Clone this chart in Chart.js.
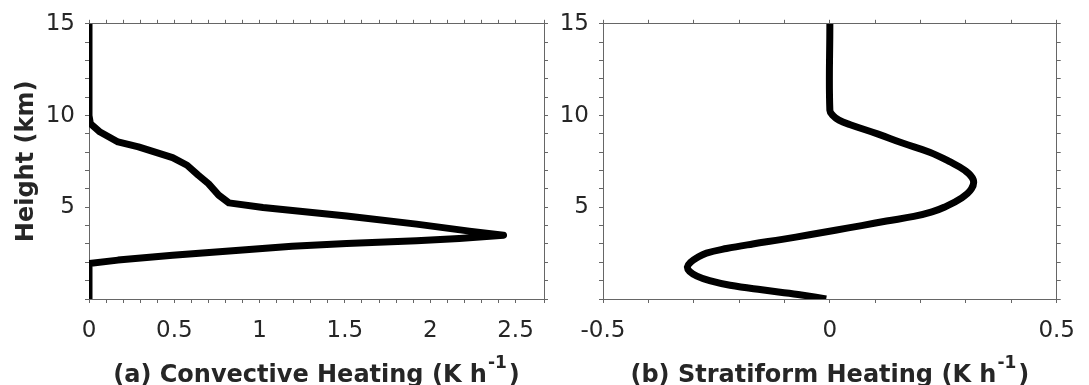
<!DOCTYPE html>
<html>
<head>
<meta charset="utf-8">
<script src="https://cdn.jsdelivr.net/npm/chart.js@4.4.0/dist/chart.umd.min.js"></script>
<style>
  html, body { margin: 0; padding: 0; background: #fff; }
  #wrap { position: relative; width: 1089px; height: 385px; overflow: hidden; }
  canvas { position: absolute; top: 0; }
  #c1 { left: 0; }
  #c2 { left: 545px; }
</style>
</head>
<body>
<div id="wrap">
  <canvas id="c1" width="560" height="385" style="width:560px;height:385px"></canvas>
  <canvas id="c2" width="544" height="385" style="width:544px;height:385px"></canvas>
</div>
<script>
// (a) convective heating profile, km / K h-1
const convHeight  = [0, 1.94, 2.12, 2.39, 2.67, 2.88, 3.03, 3.17, 3.30, 3.48, 3.70, 4.08, 4.52, 4.99, 5.24, 5.66, 6.29, 6.75, 7.29, 7.71, 8.29, 8.56, 9.10, 9.56, 10.0, 15];
const convHeating = [0, 0, 0.17, 0.49, 0.90, 1.19, 1.51, 1.92, 2.17, 2.43, 2.23, 1.92, 1.51, 1.02, 0.82, 0.76, 0.70, 0.64, 0.575, 0.49, 0.29, 0.17, 0.065, 0.008, 0, 0];

// (b) stratiform heating profile
const stratHeight  = [0, 0.25, 0.5, 0.75, 1.0, 1.25, 1.5, 1.75, 2.0, 2.25, 2.5, 2.75, 3.0, 3.25, 3.5, 3.75, 4.0, 4.25, 4.5, 4.75, 5.0, 5.5, 6.0, 6.5, 7.0, 7.5, 8.0, 8.5, 9.0, 9.5, 9.75, 10.0, 10.28, 15];
const stratHeating = [-0.008, -0.07, -0.15, -0.22, -0.265, -0.293, -0.309, -0.314, -0.307, -0.293, -0.272, -0.228, -0.17, -0.105, -0.045, 0.012, 0.07, 0.125, 0.185, 0.225, 0.252, 0.29, 0.312, 0.316, 0.298, 0.263, 0.22, 0.16, 0.105, 0.045, 0.02, 0.007, 0, 0];

const yMajor = [5, 10, 15];
const convXMajor = [0, 0.5, 1, 1.5, 2, 2.5];
const stratXMajor = [-0.5, 0, 0.5];

Chart.defaults.font.family = 'DejaVu Sans';
Chart.defaults.color = '#262626';

const axisGray = '#666';
const tickFont = { size: 23 };
const titleFont = { size: 24, weight: 'bold', lineHeight: 1 };

const isIn = (list, v) => list.some(m => Math.abs(m - v) < 1e-6);
const fmt = (v) => String(Math.round(v * 10) / 10);

function toPoints(xs, ys) {
  return xs.map((x, i) => ({ x: x, y: ys[i] }));
}

// x-axis title with a real superscript "-1"
const supTitle = {
  id: 'supTitle',
  afterDraw(chart, args, opts) {
    const ctx = chart.ctx, a = chart.chartArea;
    const fMain = 'bold 24px "DejaVu Sans"', fSup = 'bold 17px "DejaVu Sans"';
    ctx.save();
    ctx.font = fMain;
    const w1 = ctx.measureText(opts.text).width;
    const w3 = ctx.measureText(')').width;
    ctx.font = fSup;
    const w2 = ctx.measureText('-1').width;
    let x = (a.left + a.right) / 2 - (w1 + w2 + w3 + 3) / 2;
    const y = 382;
    ctx.fillStyle = '#262626';
    ctx.textAlign = 'left';
    ctx.textBaseline = 'alphabetic';
    ctx.font = fMain;
    ctx.fillText(opts.text, x, y);
    x += w1 + 1;
    ctx.font = fSup;
    ctx.fillText('-1', x, y - 14);
    x += w2 + 2;
    ctx.font = fMain;
    ctx.fillText(')', x, y);
    ctx.restore();
  }
};

function boxAxis(pos, min, max, step, size) {
  return {
    type: 'linear',
    position: pos,
    min: min,
    max: max,
    grid: { drawOnChartArea: false, drawTicks: true, tickLength: 4, color: axisGray },
    border: { display: true, color: axisGray, width: 1 },
    ticks: { display: false, stepSize: step, autoSkip: false },
    afterFit: (s) => {
      if (pos === 'top' || pos === 'bottom') s.height = size; else s.width = size;
    }
  };
}

function panel(canvasId, xs, ys, xMin, xMax, xMajor, xTitle, leftW, rightW, showYTitle, tension) {
  const xAxis = boxAxis('bottom', xMin, xMax, 0.1, 86);
  xAxis.ticks = {
    display: true, stepSize: 0.1, autoSkip: false, maxRotation: 0, font: tickFont, padding: 14,
    callback: (v) => isIn(xMajor, v) ? fmt(v) : ''
  };

  const yAxis = boxAxis('left', 0, 15, 1, leftW);
  yAxis.ticks = {
    display: true, stepSize: 1, autoSkip: false, font: tickFont, padding: 10,
    callback: (v) => isIn(yMajor, v) ? fmt(v) : ''
  };
  if (showYTitle) {
    yAxis.title = { display: true, text: 'Height (km)', font: titleFont, padding: { top: 15, bottom: 0 } };
  }

  return new Chart(document.getElementById(canvasId), {
    type: 'line',
    data: {
      datasets: [{
        data: toPoints(xs, ys),
        borderColor: '#000',
        borderWidth: 7,
        borderJoinStyle: 'round',
        pointRadius: 0,
        fill: false,
        tension: tension
      }]
    },
    options: {
      responsive: false,
      animation: false,
      layout: { padding: 0 },
      plugins: { legend: { display: false }, tooltip: { enabled: false }, supTitle: { text: xTitle } },
      scales: {
        x: xAxis,
        x2: boxAxis('top', xMin, xMax, 0.1, 23),
        y: yAxis,
        y2: boxAxis('right', 0, 15, 1, rightW)
      }
    },
    plugins: [supTitle]
  });
}

panel('c1', convHeating, convHeight, 0, 2.667, convXMajor,
  '(a) Convective Heating (K h', 89, 16, true, 0);
panel('c2', stratHeating, stratHeight, -0.5, 0.5, stratXMajor,
  '(b) Stratiform Heating (K h', 58, 32, false, 0.4);
</script>
</body>
</html>
